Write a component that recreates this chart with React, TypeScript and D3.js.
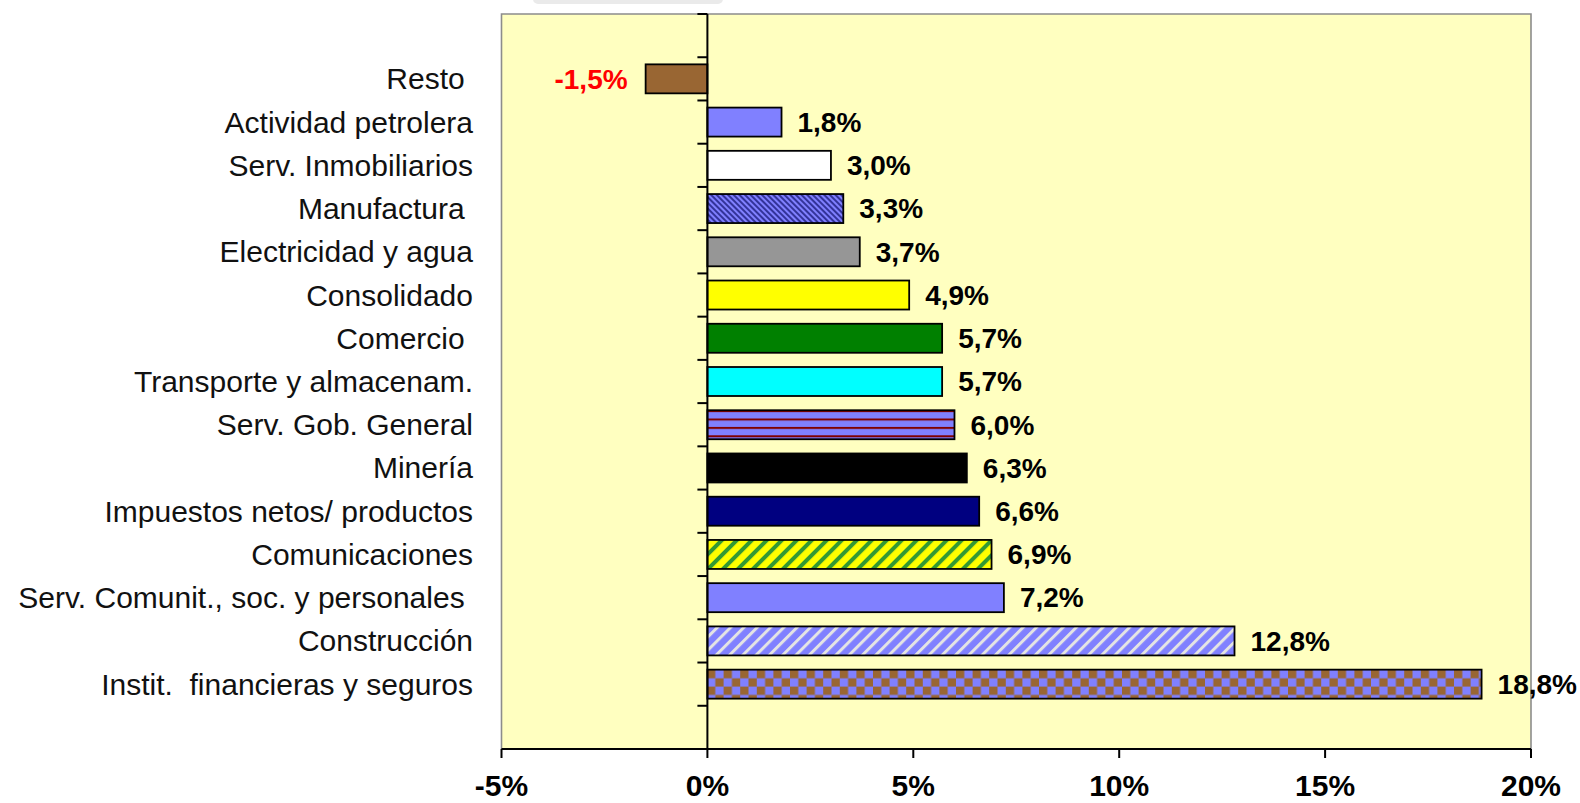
import React from "react";
import * as d3 from "d3";

const categories = [
  "Resto ",
  "Actividad petrolera",
  "Serv. Inmobiliarios",
  "Manufactura ",
  "Electricidad y agua",
  "Consolidado",
  "Comercio ",
  "Transporte y almacenam.",
  "Serv. Gob. General",
  "Minería",
  "Impuestos netos/ productos",
  "Comunicaciones",
  "Serv. Comunit., soc. y personales ",
  "Construcción",
  "Instit.  financieras y seguros",
];
const values = [-1.5, 1.8, 3.0, 3.3, 3.7, 4.9, 5.7, 5.7, 6.0, 6.3, 6.6, 6.9, 7.2, 12.8, 18.8];
const xTicks = [-5, 0, 5, 10, 15, 20];

const fills = [
  "#996633",
  "#8080FF",
  "#FFFFFF",
  "url(#pManuf)",
  "#969696",
  "#FFFF00",
  "#008000",
  "#00FFFF",
  "url(#pGob)",
  "#000000",
  "#000080",
  "url(#pCom)",
  "#8080FF",
  "url(#pCons)",
  "url(#pChk)",
];

const W = 1580;
const H = 803;
const plotLeft = 501.5;
const plotRight = 1531;
const plotTop = 14;
const plotBottom = 749;

export default function App() {
  const x = d3.scaleLinear().domain([-5, 20]).range([plotLeft, plotRight]);
  const y = d3
    .scaleBand<string>()
    .domain(categories)
    .range([plotTop, plotBottom])
    .paddingInner(0)
    .paddingOuter(1);
  const step = y.step();
  const barH = 29;
  const x0 = x(0);
  const fmt = (v: number) => v.toFixed(1).replace(".", ",") + "%";
  const boundaries = d3.range(0, categories.length + 3).map((k) => plotTop + k * step);

  return (
    <div style={{ position: "absolute", left: 0, top: 0 }}>
      <svg width={W} height={H} style={{ display: "block", fontFamily: "'Liberation Sans', Arial, sans-serif" }}>
        <defs>
          <pattern id="pManuf" patternUnits="userSpaceOnUse" width={4} height={4} patternTransform="rotate(-45)">
            <rect width={4} height={4} fill="#8080FF" />
            <rect width={2} height={4} fill="#333399" />
          </pattern>
          <pattern id="pGob" patternUnits="userSpaceOnUse" width={10} height={8.4} y={418.5}>
            <rect width={10} height={8.4} fill="#8080FF" />
            <rect width={10} height={2} fill="#800000" />
          </pattern>
          <pattern id="pCom" patternUnits="userSpaceOnUse" width={10.6} height={10.6} patternTransform="rotate(45)">
            <rect width={10.6} height={10.6} fill="#FFFF00" />
            <rect width={4} height={10.6} fill="#339933" />
          </pattern>
          <pattern id="pCons" patternUnits="userSpaceOnUse" width={9.4} height={9.4} patternTransform="rotate(45)">
            <rect width={9.4} height={9.4} fill="#8080FF" />
            <rect width={3} height={9.4} fill="#E4E4E4" />
          </pattern>
          <pattern id="pChk" patternUnits="userSpaceOnUse" width={16.6} height={16.6} x={707} y={670}>
            <rect width={16.6} height={16.6} fill="#8080FF" />
            <rect width={8.3} height={8.3} fill="#996633" />
            <rect x={8.3} y={8.3} width={8.3} height={8.3} fill="#996633" />
          </pattern>
        </defs>

        <rect x={0} y={0} width={W} height={H} fill="#FFFFFF" />
        <rect x={533} y={-6} width={190} height={10} rx={5} fill="#EAEAEA" />

        {/* plot area */}
        <rect x={plotLeft} y={plotTop} width={plotRight - plotLeft} height={plotBottom - plotTop} fill="#FFFFC0" />
        <path
          d={`M${plotLeft},${plotBottom}V${plotTop}H${plotRight}V${plotBottom}`}
          fill="none"
          stroke="#8C8C8C"
          strokeWidth={1.6}
        />

        {/* bars */}
        {categories.map((c, i) => {
          const v = values[i];
          const yc = (y(c) as number) + step / 2;
          const xa = Math.min(x(v), x0);
          const w = Math.abs(x(v) - x0);
          return (
            <rect
              key={c}
              x={xa}
              y={yc - barH / 2}
              width={w}
              height={barH}
              fill={fills[i]}
              stroke="#000"
              strokeWidth={1.8}
            />
          );
        })}

        {/* zero axis */}
        <line x1={x0} x2={x0} y1={plotTop} y2={plotBottom} stroke="#000" strokeWidth={2} />
        {boundaries.map((b, k) => (
          <line key={k} x1={x0 - 10} x2={x0} y1={b} y2={b} stroke="#000" strokeWidth={2} />
        ))}

        {/* x axis */}
        <line x1={plotLeft} x2={plotRight} y1={plotBottom} y2={plotBottom} stroke="#000" strokeWidth={2} />
        {xTicks.map((t) => (
          <g key={t}>
            <line x1={x(t)} x2={x(t)} y1={plotBottom} y2={plotBottom + 9} stroke="#000" strokeWidth={2} />
            <text x={x(t)} y={796} textAnchor="middle" fontSize={30} fontWeight="bold" fill="#000">
              {t + "%"}
            </text>
          </g>
        ))}

        {/* category labels */}
        {categories.map((c) => (
          <text
            key={c}
            x={473}
            y={(y(c) as number) + step / 2}
            dy="0.35em"
            textAnchor="end"
            fontSize={30}
            fill="#111"
            style={{ whiteSpace: "pre" }}
          >
            {c}
          </text>
        ))}

        {/* value labels */}
        {categories.map((c, i) => {
          const v = values[i];
          const yc = (y(c) as number) + step / 2;
          return (
            <text
              key={c}
              x={v < 0 ? x(v) - 18 : x(v) + 16}
              y={yc}
              dy="0.35em"
              textAnchor={v < 0 ? "end" : "start"}
              fontSize={28}
              fontWeight="bold"
              fill={v < 0 ? "#FF0000" : "#000"}
            >
              {fmt(v)}
            </text>
          );
        })}
      </svg>
    </div>
  );
}
